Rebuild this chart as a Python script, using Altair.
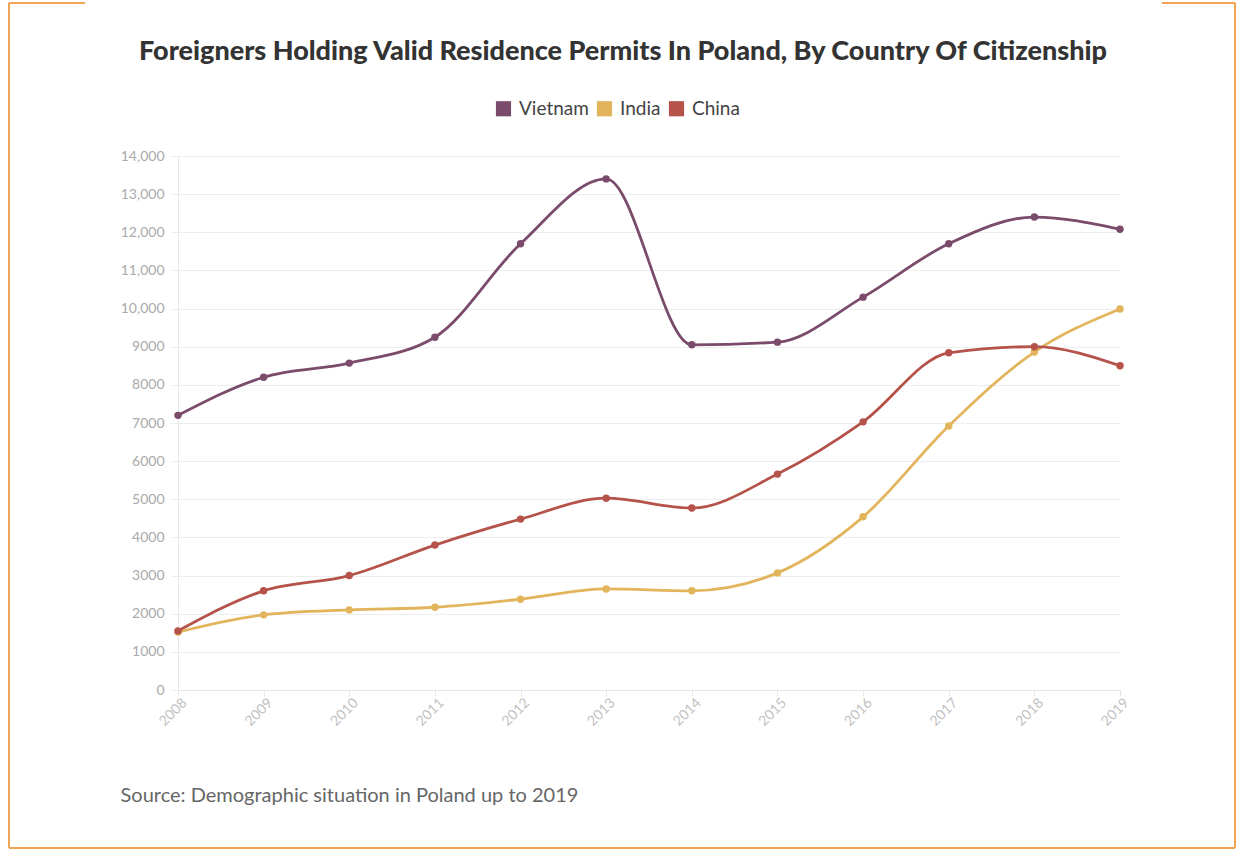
import altair as alt
import pandas as pd

years = ["2008", "2009", "2010", "2011", "2012", "2013", "2014", "2015", "2016", "2017", "2018", "2019"]
countries = ["Vietnam", "India", "China"]
vietnam = [7200, 8200, 8570, 9250, 11700, 13400, 9050, 9120, 10300, 11700, 12400, 12080]
india = [1520, 1970, 2100, 2170, 2380, 2650, 2600, 3070, 4540, 6920, 8860, 9990]
china = [1550, 2600, 3000, 3800, 4480, 5030, 4770, 5660, 7030, 8840, 9000, 8500]
colors = ["#7b4b6b", "#e2b45c", "#b5524a"]
y_ticks = list(range(0, 14001, 1000))

title_text = "Foreigners Holding Valid Residence Permits In Poland, By Country Of Citizenship"
source_text = "Source: Demographic situation in Poland up to 2019"

rows = []
for name, vals in zip(countries, [vietnam, india, china]):
    for yr, v in zip(years, vals):
        rows.append({"country": name, "year": yr, "value": v})
df = pd.DataFrame(rows)

FONT = "Lato"

x_enc = alt.X(
    "year:O",
    sort=years,
    scale=alt.Scale(type="point", padding=0),
    axis=alt.Axis(
        title=source_text,
        titleFont=FONT,
        titleFontSize=20,
        titleFontWeight="normal",
        titleColor="#666666",
        titleAnchor="start",
        titleAlign="left",
        titleBaseline="middle",
        titleX=-58,
        titleY=105,
        labelAngle=-45,
        labelAlign="center",
        labelBaseline="middle",
        labelPadding=16,
        labelOffset=-5,
        labelFont=FONT,
        labelFontSize=14,
        labelColor="#c2c2c2",
        domainColor="#e6e6e6",
        tickColor="#e6e6e6",
        tickSize=6,
        grid=False,
    ),
)
y_enc = alt.Y(
    "value:Q",
    scale=alt.Scale(domain=[0, 14000], nice=False),
    axis=alt.Axis(
        title=None,
        values=y_ticks,
        labelExpr="datum.value >= 10000 ? format(datum.value, ',') : format(datum.value, 'd')",
        labelFont=FONT,
        labelFontSize=14,
        labelColor="#aaaaaa",
        labelPadding=6,
        domainColor="#e6e6e6",
        tickColor="#eeeeee",
        tickSize=8,
        gridColor="#eeeeee",
    ),
)
color_enc = alt.Color(
    "country:N",
    sort=countries,
    scale=alt.Scale(domain=countries, range=colors),
    legend=alt.Legend(
        title=None,
        orient="none",
        direction="horizontal",
        legendX=316,
        legendY=-57,
        symbolType="square",
        symbolSize=230,
        symbolOpacity=1,
        symbolStrokeWidth=0,
        labelFont=FONT,
        labelFontSize=19,
        labelColor="#444444",
        labelOffset=6,
        columnPadding=6,
    ),
)

base = alt.Chart(df)
lines = base.mark_line(interpolate="monotone", strokeWidth=2.8).encode(x=x_enc, y=y_enc, color=color_enc)
points = base.mark_circle(size=55, opacity=1).encode(
    x=x_enc, y=y_enc,
    color=alt.Color("country:N", sort=countries, scale=alt.Scale(domain=countries, range=colors), legend=None),
)

title_df = pd.DataFrame({"t": [title_text]})
title_mark = alt.Chart(title_df).mark_text(
    font=FONT, fontSize=27, fontWeight=900, color="#333333", align="center", baseline="middle"
).encode(text="t:N", x=alt.value(445), y=alt.value(-104))

border_color = "#f2a455"
one = pd.DataFrame({"k": [0]})
def rule(x, x2, y, y2):
    return alt.Chart(one).mark_rule(color=border_color, strokeWidth=2).encode(
        x=alt.value(x), x2=alt.value(x2), y=alt.value(y), y2=alt.value(y2)
    )

borders = [
    rule(-169, -169, -153, 692),
    rule(1057, 1057, -153, 692),
    rule(-169, 1057, 692, 692),
    rule(-169, -93, -153, -153),
    rule(984, 1057, -153, -153),
]

chart = alt.layer(lines, points, title_mark, *borders).properties(
    width=942,
    height=534,
    autosize=alt.AutoSizeParams(type="none"),
    padding={"left": 178, "top": 156, "right": 118, "bottom": 160},
    background="#ffffff",
).configure_view(stroke=None)

chart.save("out.html", embed_options={"renderer": "svg", "actions": False})
